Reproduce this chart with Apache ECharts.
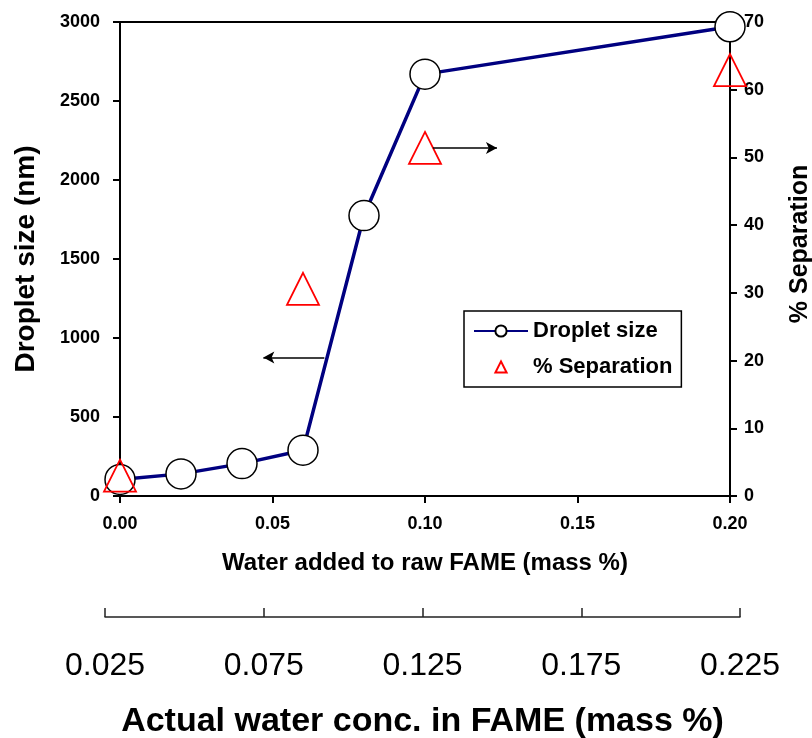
<!DOCTYPE html>
<html>
<head>
<meta charset="utf-8">
<script src="https://cdn.jsdelivr.net/npm/echarts@6/dist/echarts.min.js"></script>
<style>
  html, body { margin: 0; padding: 0; background: #fff; }
  #chart { width: 812px; height: 738px; }
</style>
</head>
<body>
<div id="chart"></div>
<script>
// Water added to raw FAME (mass %)
const waterAdded = [0.00, 0.02, 0.04, 0.06, 0.08, 0.10, 0.20];
// Droplet size (nm) measured at each water level
const dropletSize = [105, 140, 205, 290, 1775, 2670, 2970];
// % Separation measured at a subset of water levels
const sepWater = [0.00, 0.06, 0.10, 0.20];
const separation = [3.0, 30.6, 51.4, 62.9];
// Actual water concentration labels for the secondary scale
const actualConcLabels = ['0.025', '0.075', '0.125', '0.175', '0.225'];

// Annotation arrows pointing each series to its own axis
const leftArrow = { from: [0.067, 877], to: [0.047, 877] };
const rightArrow = { from: [0.1026, 51.4], to: [0.1236, 51.4] };

const FONT = 'Liberation Sans, Arial, Helvetica, sans-serif';

const chart = echarts.init(document.getElementById('chart'), null, { renderer: 'canvas' });

chart.setOption({
  animation: false,
  backgroundColor: '#fff',
  textStyle: { fontFamily: FONT, color: '#000' },
  grid: [
    { left: 120, right: 82, top: 22, height: 474, outerBoundsMode: 'none', containLabel: false,
      show: true, borderColor: '#000', borderWidth: 2, backgroundColor: 'transparent' },
    { left: 105, right: 72, top: 600, height: 17, outerBoundsMode: 'none', containLabel: false }
  ],
  legend: {
    orient: 'vertical',
    left: 464,
    top: 311,
    padding: [9, 9, 9, 9],
    itemGap: 14,
    itemWidth: 54,
    itemHeight: 14,
    borderColor: '#000',
    borderWidth: 1.5,
    textStyle: { fontFamily: FONT, fontSize: 22, fontWeight: 'bold', color: '#000' },
    data: ['Droplet size', '% Separation']
  },
  xAxis: [
    {
      type: 'value', gridIndex: 0, min: 0, max: 0.2, interval: 0.05,
      name: 'Water added to raw FAME (mass %)', nameLocation: 'middle', nameGap: 55,
      nameTextStyle: { fontFamily: FONT, fontSize: 24, fontWeight: 'bold', color: '#000' },
      axisLine: { lineStyle: { color: '#000', width: 2 } },
      axisTick: { inside: false, length: 7, lineStyle: { color: '#000', width: 2 } },
      axisLabel: { margin: 19, fontFamily: FONT, fontSize: 18, fontWeight: 'bold', color: '#000', formatter: v => v.toFixed(2) },
      splitLine: { show: false }
    },
    {
      type: 'category', gridIndex: 1, boundaryGap: false, data: actualConcLabels,
      position: 'bottom',
      name: 'Actual water conc. in FAME (mass %)', nameLocation: 'middle', nameGap: 88,
      nameTextStyle: { fontFamily: FONT, fontSize: 34, fontWeight: 'bold', color: '#000' },
      axisLine: { lineStyle: { color: '#222', width: 1.5 } },
      axisTick: { inside: true, length: 9, alignWithLabel: true, lineStyle: { color: '#222', width: 1.5 } },
      axisLabel: { margin: 33, fontFamily: FONT, fontSize: 32, color: '#000' },
      splitLine: { show: false }
    }
  ],
  yAxis: [
    {
      type: 'value', gridIndex: 0, min: 0, max: 3000, interval: 500, position: 'left',
      name: 'Droplet size (nm)', nameLocation: 'middle', nameGap: 80,
      nameTextStyle: { fontFamily: FONT, fontSize: 28, fontWeight: 'bold', color: '#000' },
      axisLine: { show: true, lineStyle: { color: '#000', width: 2 } },
      axisTick: { show: true, inside: false, length: 7, lineStyle: { color: '#000', width: 2 } },
      axisLabel: { margin: 20, fontFamily: FONT, fontSize: 18, fontWeight: 'bold', color: '#000', formatter: v => String(v) },
      splitLine: { show: false }
    },
    {
      type: 'value', gridIndex: 0, min: 0, max: 70, interval: 10, position: 'right',
      name: '% Separation', nameLocation: 'middle', nameGap: 58,
      nameTextStyle: { fontFamily: FONT, fontSize: 25, fontWeight: 'bold', color: '#000', padding: [0, 0, 0, 30] },
      axisLine: { show: true, lineStyle: { color: '#000', width: 2 } },
      axisTick: { show: true, inside: false, length: 7, lineStyle: { color: '#000', width: 2 } },
      axisLabel: { margin: 14, fontFamily: FONT, fontSize: 18, fontWeight: 'bold', color: '#000' },
      splitLine: { show: false }
    },
    { type: 'value', gridIndex: 1, show: false, min: 0, max: 1 }
  ],
  series: [
    {
      name: 'Droplet size',
      type: 'line',
      xAxisIndex: 0, yAxisIndex: 0,
      data: waterAdded.map((x, i) => [x, dropletSize[i]]),
      symbol: 'circle',
      symbolSize: 30,
      showAllSymbol: true,
      lineStyle: { color: '#000080', width: 3.5 },
      itemStyle: { color: '#fff', borderColor: '#000', borderWidth: 1.5 },
      emphasis: { disabled: true },
      silent: true,
      z: 2,
      markLine: {
        silent: true,
        symbol: ['none', 'arrow'],
        symbolSize: [9, 11],
        label: { show: false },
        lineStyle: { color: '#000', width: 1.5, type: 'solid' },
        data: [[{ coord: leftArrow.from }, { coord: leftArrow.to }]]
      }
    },
    {
      name: '% Separation',
      type: 'line',
      xAxisIndex: 0, yAxisIndex: 1,
      data: sepWater.map((x, i) => [x, separation[i]]),
      symbol: 'triangle',
      symbolSize: 32,
      showAllSymbol: true,
      lineStyle: { width: 0, opacity: 0 },
      itemStyle: { color: 'rgba(255,255,255,0)', borderColor: '#ff0000', borderWidth: 1.8 },
      emphasis: { disabled: true },
      silent: true,
      z: 3,
      markLine: {
        silent: true,
        symbol: ['none', 'arrow'],
        symbolSize: [9, 11],
        label: { show: false },
        lineStyle: { color: '#000', width: 1.5, type: 'solid' },
        data: [[{ coord: rightArrow.from }, { coord: rightArrow.to }]]
      }
    }
  ]
});
</script>
</body>
</html>
